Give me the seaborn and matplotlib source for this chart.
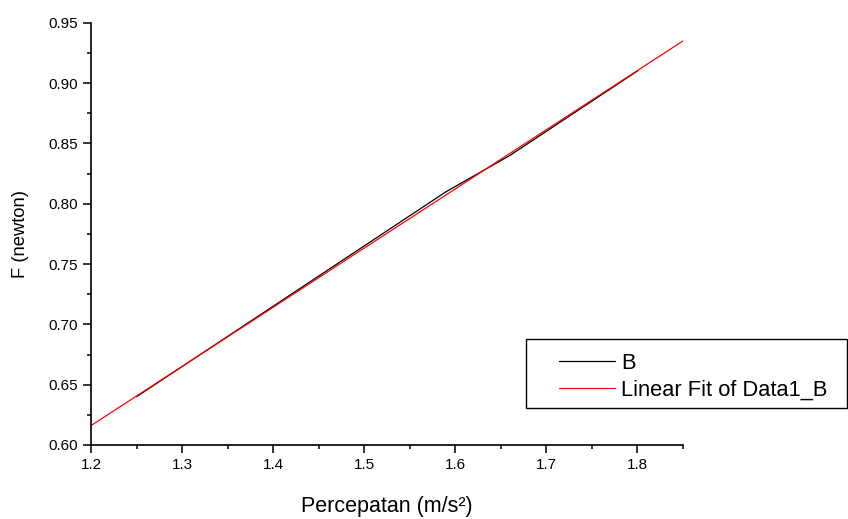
import numpy as np
import pandas as pd
import matplotlib
matplotlib.use("Agg")
import matplotlib.pyplot as plt
from matplotlib.patches import Rectangle
from matplotlib.ticker import MultipleLocator, FormatStrFormatter
import seaborn as sns

# Data
x_vals = [1.25, 1.59, 1.66, 1.80]
y_vals = [0.64, 0.81, 0.84, 0.91]
fit_range = [1.2, 1.85]
series_names = ["B", "Linear Fit of Data1_B"]

sns.set_style("ticks")
plt.rcParams["font.family"] = ["Liberation Sans", "DejaVu Sans"]
plt.rcParams["text.color"] = "black"
plt.rcParams["axes.labelcolor"] = "black"
plt.rcParams["xtick.color"] = "black"
plt.rcParams["ytick.color"] = "black"

W, H = 848, 519
fig = plt.figure(figsize=(W / 100, H / 100), dpi=100)
ax = fig.add_axes([91 / W, 1 - 445 / H, (683 - 91) / W, (445 - 22.7) / H])

df = pd.DataFrame({"x": x_vals, "y": y_vals})
slope, intercept = np.polyfit(df["x"], df["y"], 1)
fit_x = np.array(fit_range)
fit_df = pd.DataFrame({"x": fit_x, "y": slope * fit_x + intercept})

sns.lineplot(data=df, x="x", y="y", ax=ax, color="black", linewidth=0.9,
             label=series_names[0], legend=False)
sns.lineplot(data=fit_df, x="x", y="y", ax=ax, color="red", linewidth=0.9,
             label=series_names[1], legend=False)

ax.set_xlim(1.2, 1.85)
ax.set_ylim(0.60, 0.95)
ax.xaxis.set_major_locator(MultipleLocator(0.1))
ax.xaxis.set_minor_locator(MultipleLocator(0.05))
ax.yaxis.set_major_locator(MultipleLocator(0.05))
ax.yaxis.set_minor_locator(MultipleLocator(0.025))
ax.xaxis.set_major_formatter(FormatStrFormatter("%.1f"))
ax.yaxis.set_major_formatter(FormatStrFormatter("%.2f"))
ax.tick_params(which="major", direction="out", length=6, width=1.1, labelsize=11,
               color="black", labelcolor="black")
ax.tick_params(which="minor", direction="out", length=3, width=1.1, color="black")
for s in ["top", "right"]:
    ax.spines[s].set_visible(False)
for s in ["left", "bottom"]:
    ax.spines[s].set_linewidth(1.2)
    ax.spines[s].set_color("black")

ax.set_xlabel("Percepatan (m/s²)", fontsize=15.5, labelpad=17)
ax.set_ylabel("F (newton)", fontsize=13.2, labelpad=14)

# legend frame (drawn in figure pixels)
frame = Rectangle((526 / W, 1 - 408 / H), (847 - 526) / W, (408 - 339) / H,
                  transform=fig.transFigure, fill=False, edgecolor="black",
                  linewidth=1.0)
fig.patches.append(frame)

handles, labels = ax.get_legend_handles_labels()
leg = fig.legend(handles, labels, loc="upper left",
                 bbox_to_anchor=(559 / W, 1 - 353 / H),
                 fontsize=15.75, frameon=False,
                 handlelength=2.56, handletextpad=0.27, borderpad=0,
                 labelspacing=0.25, borderaxespad=0)

fig.savefig("out.png", dpi=100)
